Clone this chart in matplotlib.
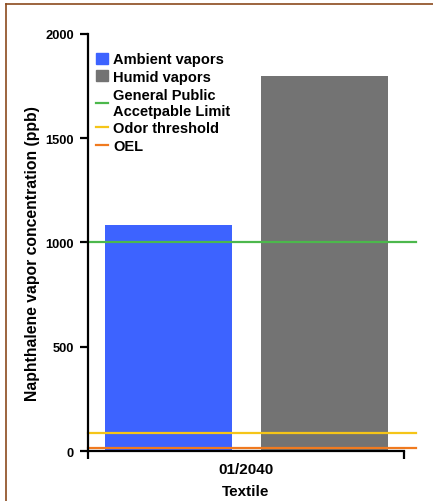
import matplotlib
matplotlib.use("Agg")
import matplotlib.pyplot as plt
from matplotlib.lines import Line2D
from matplotlib.patches import Patch

plt.rcParams['font.family'] = ['Liberation Sans', 'DejaVu Sans']
plt.rcParams['font.weight'] = 'bold'

# data
group = "01/2040"
series = ["Ambient vapors", "Humid vapors"]
values = [1085, 1800]
bar_colors = ["#3D63FF", "#737373"]
limit_names = ["General Public\nAccetpable Limit", "Odor threshold", "OEL"]
limit_values = [1000, 84, 12]
limit_colors = ["#4CB84C", "#F5C518", "#F07A1F"]
yticks = [0, 500, 1000, 1500, 2000]

fig = plt.figure(figsize=(4.33, 5.02), dpi=100)
ax = fig.add_axes([0.2032, 0.0996, 0.7298, 0.8307])

offsets = [-0.245, 0.248]
for off, v, c in zip(offsets, values, bar_colors):
    ax.bar(off, v, width=0.40, color=c, zorder=1)

for v, c in zip(limit_values, limit_colors):
    ax.plot([-0.5, 0.538], [v, v], color=c, lw=1.6, clip_on=False, zorder=2)

ax.set_xlim(-0.5, 0.5)
ax.set_ylim(0, 2000)
ax.set_yticks(yticks)
ax.set_yticklabels([str(t) for t in yticks], fontsize=9.3, fontweight='bold')
ax.set_xticks([-0.5, 0.5], minor=True)
ax.set_xticks([0])
ax.set_xticklabels([group], fontsize=11, fontweight='bold')
ax.tick_params(axis='x', which='major', length=0, pad=8)
ax.tick_params(axis='x', which='minor', length=6, width=1.6, direction='out')
ax.tick_params(axis='y', length=6, width=1.6, pad=4)
for s in ['top', 'right']:
    ax.spines[s].set_visible(False)
for s in ['left', 'bottom']:
    ax.spines[s].set_linewidth(1.6)

ax.set_ylabel("Naphthalene vapor concentration (ppb)", fontsize=11.3, fontweight='bold')
ax.yaxis.set_label_coords(-0.152, 0.476)
ax.set_xlabel("Textile", fontsize=11, fontweight='bold', labelpad=6)

handles = [Patch(color=c) for c in bar_colors] + [Line2D([], [], color=c, lw=1.6) for c in limit_colors]
labels = series + limit_names
leg = ax.legend(handles, labels, loc='upper left', bbox_to_anchor=(0.008, 0.97), frameon=False,
                prop={'size': 10.5, 'weight': 'bold'}, handlelength=0.8, handleheight=0.8,
                handletextpad=0.35, labelspacing=0.25, borderaxespad=0)

# brown frame edges
fig.add_artist(Line2D([6/433, 1], [1-5/502, 1-5/502], color="#8B4A1E", lw=1.2))
fig.add_artist(Line2D([6/433, 6/433], [0, 1-5/502], color="#8B4A1E", lw=1.2))

fig.savefig("out.png", dpi=100)
